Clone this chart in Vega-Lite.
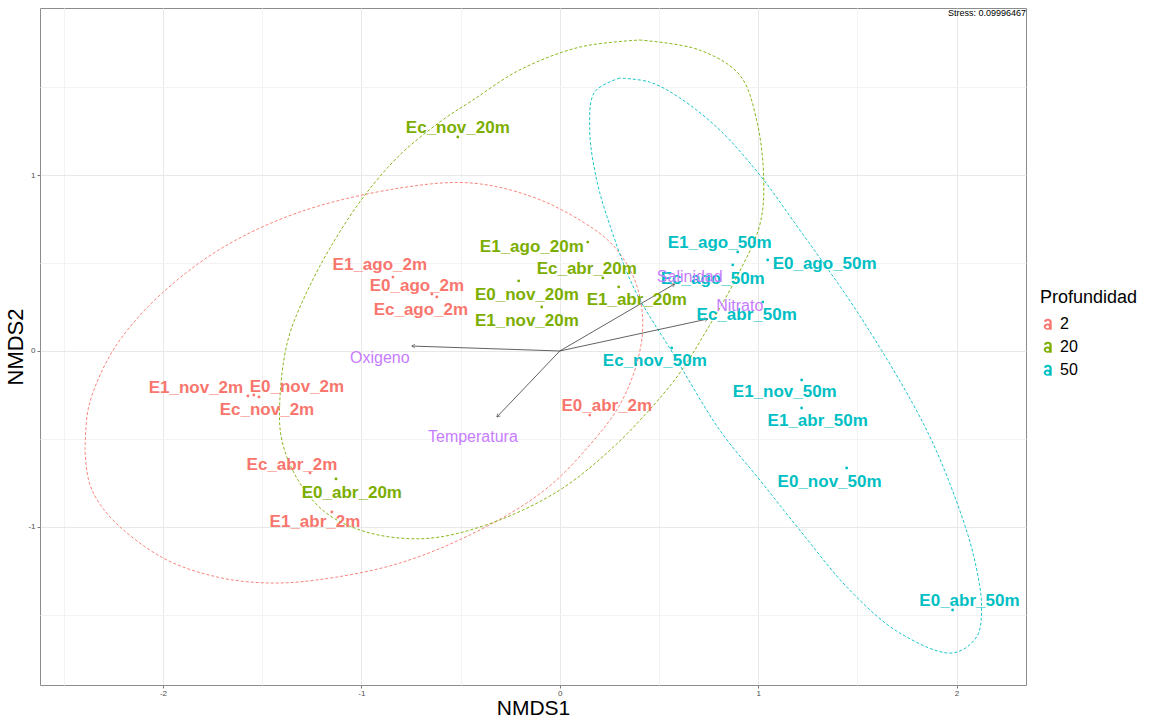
{
  "$schema": "https://vega.github.io/schema/vega-lite/v6.json",
  "width": 986,
  "height": 677,
  "autosize": "none",
  "padding": {"left": 40, "top": 8, "right": 124, "bottom": 34},
  "background": "white",
  "datasets": {
    "muestras": [
      {"id": "E1_ago_2m", "Profundidad": "2", "x": -0.841, "y": 0.420, "lx": -0.907, "ly": 0.489},
      {"id": "E0_ago_2m", "Profundidad": "2", "x": -0.620, "y": 0.307, "lx": -0.720, "ly": 0.369},
      {"id": "Ec_ago_2m", "Profundidad": "2", "x": -0.645, "y": 0.324, "lx": -0.700, "ly": 0.233},
      {"id": "E1_nov_2m", "Profundidad": "2", "x": -1.572, "y": -0.256, "lx": -1.834, "ly": -0.210},
      {"id": "E0_nov_2m", "Profundidad": "2", "x": -1.542, "y": -0.250, "lx": -1.325, "ly": -0.205},
      {"id": "Ec_nov_2m", "Profundidad": "2", "x": -1.516, "y": -0.261, "lx": -1.476, "ly": -0.335},
      {"id": "Ec_abr_2m", "Profundidad": "2", "x": -1.259, "y": -0.693, "lx": -1.350, "ly": -0.648},
      {"id": "E1_abr_2m", "Profundidad": "2", "x": -1.149, "y": -0.915, "lx": -1.234, "ly": -0.972},
      {"id": "E0_abr_2m", "Profundidad": "2", "x": 0.151, "y": -0.364, "lx": 0.237, "ly": -0.313},
      {"id": "Ec_nov_20m", "Profundidad": "20", "x": -0.514, "y": 1.216, "lx": -0.514, "ly": 1.267},
      {"id": "E1_ago_20m", "Profundidad": "20", "x": 0.141, "y": 0.619, "lx": -0.141, "ly": 0.591},
      {"id": "Ec_abr_20m", "Profundidad": "20", "x": 0.217, "y": 0.415, "lx": 0.136, "ly": 0.466},
      {"id": "E0_nov_20m", "Profundidad": "20", "x": -0.207, "y": 0.398, "lx": -0.166, "ly": 0.318},
      {"id": "E1_abr_20m", "Profundidad": "20", "x": 0.297, "y": 0.364, "lx": 0.388, "ly": 0.290},
      {"id": "E1_nov_20m", "Profundidad": "20", "x": -0.091, "y": 0.250, "lx": -0.166, "ly": 0.170},
      {"id": "E0_abr_20m", "Profundidad": "20", "x": -1.128, "y": -0.727, "lx": -1.048, "ly": -0.807},
      {"id": "E1_ago_50m", "Profundidad": "50", "x": 0.897, "y": 0.563, "lx": 0.806, "ly": 0.614},
      {"id": "Ec_ago_50m", "Profundidad": "50", "x": 0.872, "y": 0.489, "lx": 0.771, "ly": 0.409},
      {"id": "E0_ago_50m", "Profundidad": "50", "x": 1.048, "y": 0.517, "lx": 1.335, "ly": 0.494},
      {"id": "Ec_abr_50m", "Profundidad": "50", "x": 1.023, "y": 0.278, "lx": 0.942, "ly": 0.205},
      {"id": "Ec_nov_50m", "Profundidad": "50", "x": 0.564, "y": 0.017, "lx": 0.479, "ly": -0.057},
      {"id": "E1_nov_50m", "Profundidad": "50", "x": 1.219, "y": -0.165, "lx": 1.134, "ly": -0.233},
      {"id": "E1_abr_50m", "Profundidad": "50", "x": 1.219, "y": -0.324, "lx": 1.300, "ly": -0.398},
      {"id": "E0_nov_50m", "Profundidad": "50", "x": 1.446, "y": -0.665, "lx": 1.360, "ly": -0.744},
      {"id": "E0_abr_50m", "Profundidad": "50", "x": 1.980, "y": -1.472, "lx": 2.065, "ly": -1.420}
    ],
    "elipses": [
      {"Profundidad": "2", "i": 1, "x": -2.393, "y": -0.563},
      {"Profundidad": "2", "i": 2, "x": -2.378, "y": -0.335},
      {"Profundidad": "2", "i": 3, "x": -2.317, "y": -0.136},
      {"Profundidad": "2", "i": 4, "x": -2.217, "y": 0.063},
      {"Profundidad": "2", "i": 5, "x": -2.015, "y": 0.318},
      {"Profundidad": "2", "i": 6, "x": -1.703, "y": 0.585},
      {"Profundidad": "2", "i": 7, "x": -1.310, "y": 0.790},
      {"Profundidad": "2", "i": 8, "x": -0.806, "y": 0.926},
      {"Profundidad": "2", "i": 9, "x": -0.453, "y": 0.955},
      {"Profundidad": "2", "i": 10, "x": -0.151, "y": 0.881},
      {"Profundidad": "2", "i": 11, "x": 0.101, "y": 0.744},
      {"Profundidad": "2", "i": 12, "x": 0.267, "y": 0.602},
      {"Profundidad": "2", "i": 13, "x": 0.378, "y": 0.403},
      {"Profundidad": "2", "i": 14, "x": 0.418, "y": 0.176},
      {"Profundidad": "2", "i": 15, "x": 0.393, "y": -0.051},
      {"Profundidad": "2", "i": 16, "x": 0.302, "y": -0.307},
      {"Profundidad": "2", "i": 17, "x": 0.151, "y": -0.534},
      {"Profundidad": "2", "i": 18, "x": -0.076, "y": -0.790},
      {"Profundidad": "2", "i": 19, "x": -0.403, "y": -1.017},
      {"Profundidad": "2", "i": 20, "x": -0.806, "y": -1.205},
      {"Profundidad": "2", "i": 21, "x": -1.224, "y": -1.301},
      {"Profundidad": "2", "i": 22, "x": -1.476, "y": -1.318},
      {"Profundidad": "2", "i": 23, "x": -1.728, "y": -1.284},
      {"Profundidad": "2", "i": 24, "x": -2.000, "y": -1.176},
      {"Profundidad": "2", "i": 25, "x": -2.267, "y": -0.943},
      {"Profundidad": "2", "i": 26, "x": -2.368, "y": -0.761},
      {"Profundidad": "2", "i": 27, "x": -2.393, "y": -0.563},
      {"Profundidad": "20", "i": 1, "x": 0.403, "y": 1.767},
      {"Profundidad": "20", "i": 2, "x": 0.705, "y": 1.710},
      {"Profundidad": "20", "i": 3, "x": 0.907, "y": 1.568},
      {"Profundidad": "20", "i": 4, "x": 0.992, "y": 1.313},
      {"Profundidad": "20", "i": 5, "x": 1.028, "y": 0.972},
      {"Profundidad": "20", "i": 6, "x": 1.008, "y": 0.716},
      {"Profundidad": "20", "i": 7, "x": 0.892, "y": 0.420},
      {"Profundidad": "20", "i": 8, "x": 0.741, "y": 0.119},
      {"Profundidad": "20", "i": 9, "x": 0.605, "y": -0.125},
      {"Profundidad": "20", "i": 10, "x": 0.438, "y": -0.352},
      {"Profundidad": "20", "i": 11, "x": 0.237, "y": -0.580},
      {"Profundidad": "20", "i": 12, "x": 0.000, "y": -0.790},
      {"Profundidad": "20", "i": 13, "x": -0.302, "y": -0.960},
      {"Profundidad": "20", "i": 14, "x": -0.605, "y": -1.057},
      {"Profundidad": "20", "i": 15, "x": -0.806, "y": -1.063},
      {"Profundidad": "20", "i": 16, "x": -1.008, "y": -1.017},
      {"Profundidad": "20", "i": 17, "x": -1.184, "y": -0.915},
      {"Profundidad": "20", "i": 18, "x": -1.320, "y": -0.733},
      {"Profundidad": "20", "i": 19, "x": -1.401, "y": -0.506},
      {"Profundidad": "20", "i": 20, "x": -1.411, "y": -0.278},
      {"Profundidad": "20", "i": 21, "x": -1.370, "y": 0.063},
      {"Profundidad": "20", "i": 22, "x": -1.270, "y": 0.347},
      {"Profundidad": "20", "i": 23, "x": -1.134, "y": 0.631},
      {"Profundidad": "20", "i": 24, "x": -0.982, "y": 0.886},
      {"Profundidad": "20", "i": 25, "x": -0.806, "y": 1.114},
      {"Profundidad": "20", "i": 26, "x": -0.605, "y": 1.301},
      {"Profundidad": "20", "i": 27, "x": -0.438, "y": 1.426},
      {"Profundidad": "20", "i": 28, "x": -0.202, "y": 1.597},
      {"Profundidad": "20", "i": 29, "x": 0.101, "y": 1.727},
      {"Profundidad": "20", "i": 30, "x": 0.403, "y": 1.767},
      {"Profundidad": "50", "i": 1, "x": 0.302, "y": 1.551},
      {"Profundidad": "50", "i": 2, "x": 0.176, "y": 1.472},
      {"Profundidad": "50", "i": 3, "x": 0.151, "y": 1.256},
      {"Profundidad": "50", "i": 4, "x": 0.186, "y": 0.972},
      {"Profundidad": "50", "i": 5, "x": 0.252, "y": 0.716},
      {"Profundidad": "50", "i": 6, "x": 0.378, "y": 0.347},
      {"Profundidad": "50", "i": 7, "x": 0.569, "y": -0.011},
      {"Profundidad": "50", "i": 8, "x": 0.806, "y": -0.449},
      {"Profundidad": "50", "i": 9, "x": 1.008, "y": -0.733},
      {"Profundidad": "50", "i": 10, "x": 1.209, "y": -1.017},
      {"Profundidad": "50", "i": 11, "x": 1.461, "y": -1.358},
      {"Profundidad": "50", "i": 12, "x": 1.713, "y": -1.602},
      {"Profundidad": "50", "i": 13, "x": 1.980, "y": -1.716},
      {"Profundidad": "50", "i": 14, "x": 2.101, "y": -1.625},
      {"Profundidad": "50", "i": 15, "x": 2.126, "y": -1.455},
      {"Profundidad": "50", "i": 16, "x": 2.091, "y": -1.188},
      {"Profundidad": "50", "i": 17, "x": 2.015, "y": -0.903},
      {"Profundidad": "50", "i": 18, "x": 1.849, "y": -0.449},
      {"Profundidad": "50", "i": 19, "x": 1.526, "y": 0.176},
      {"Profundidad": "50", "i": 20, "x": 1.174, "y": 0.744},
      {"Profundidad": "50", "i": 21, "x": 1.008, "y": 1.000},
      {"Profundidad": "50", "i": 22, "x": 0.806, "y": 1.256},
      {"Profundidad": "50", "i": 23, "x": 0.605, "y": 1.438},
      {"Profundidad": "50", "i": 24, "x": 0.453, "y": 1.528},
      {"Profundidad": "50", "i": 25, "x": 0.302, "y": 1.551}
    ],
    "vectores": [
      {"var": "Oxigeno", "x0": 0, "y0": 0, "x": -0.746, "y": 0.028, "lx": -0.907, "ly": -0.040},
      {"var": "Temperatura", "x0": 0, "y0": 0, "x": -0.317, "y": -0.375, "lx": -0.438, "ly": -0.489},
      {"var": "Salinidad", "x0": 0, "y0": 0, "x": 0.579, "y": 0.381, "lx": 0.655, "ly": 0.420},
      {"var": "Nitrato", "x0": 0, "y0": 0, "x": 0.746, "y": 0.182, "lx": 0.907, "ly": 0.256}
    ],
    "estres": [
      {"texto": "Stress: 0.09996467", "x": 2.35, "y": 1.949}
    ]
  },
  "layer": [
    {
      "data": {"name": "elipses"},
      "mark": {"type": "line", "strokeDash": [3, 2], "strokeWidth": 0.9, "interpolate": "catmull-rom"},
      "encoding": {
        "x": {
          "field": "x",
          "type": "quantitative",
          "scale": {"domain": [-2.62, 2.35], "nice": false, "zero": false},
          "axis": {
            "title": "NMDS1",
            "values": [-2.5, -2, -1.5, -1, -0.5, 0, 0.5, 1, 1.5, 2],
            "labelExpr": "datum.value % 1 === 0 ? '' + datum.value : ''",
            "tickColor": {"condition": {"test": "datum.value % 1 !== 0", "value": "transparent"}, "value": "#555555"},
            "gridColor": {"condition": {"test": "datum.value % 1 !== 0", "value": "#F3F3F3"}, "value": "#E8E8E8"},
            "labelPadding": 1,
            "titleFontSize": 21,
            "titlePadding": 0
          }
        },
        "y": {
          "field": "y",
          "type": "quantitative",
          "scale": {"domain": [-1.898, 1.949], "nice": false, "zero": false},
          "axis": {
            "title": "NMDS2",
            "values": [-1.5, -1, -0.5, 0, 0.5, 1, 1.5],
            "labelExpr": "datum.value % 1 === 0 ? '' + datum.value : ''",
            "tickColor": {"condition": {"test": "datum.value % 1 !== 0", "value": "transparent"}, "value": "#555555"},
            "gridColor": {"condition": {"test": "datum.value % 1 !== 0", "value": "#F3F3F3"}, "value": "#E8E8E8"},
            "titlePadding": 0
          }
        },
        "color": {"field": "Profundidad", "type": "nominal"},
        "detail": {"field": "Profundidad", "type": "nominal"},
        "order": {"field": "i", "type": "quantitative"}
      }
    },
    {
      "data": {"name": "vectores"},
      "mark": {"type": "rule", "color": "#3a3a3a", "strokeWidth": 0.8},
      "encoding": {
        "x": {"field": "x0", "type": "quantitative"},
        "y": {"field": "y0", "type": "quantitative"},
        "x2": {"field": "x"},
        "y2": {"field": "y"}
      }
    },
    {
      "data": {"name": "vectores"},
      "transform": [
        {"calculate": "atan2(-datum.y * 176, datum.x * 198.4) * 180 / PI", "as": "ang"}
      ],
      "mark": {"type": "point", "shape": "M -1 -0.6 L 0 0 L -1 0.6", "filled": false, "color": "#3a3a3a", "strokeWidth": 0.8, "size": 40},
      "encoding": {
        "x": {"field": "x", "type": "quantitative"},
        "y": {"field": "y", "type": "quantitative"},
        "angle": {"field": "ang", "type": "quantitative", "scale": null}
      }
    },
    {
      "data": {"name": "muestras"},
      "mark": {"type": "point", "filled": true, "size": 8, "opacity": 1},
      "encoding": {
        "x": {"field": "x", "type": "quantitative"},
        "y": {"field": "y", "type": "quantitative"},
        "color": {"field": "Profundidad", "type": "nominal"}
      }
    },
    {
      "data": {"name": "muestras"},
      "mark": {"type": "text", "font": "Liberation Sans", "fontSize": 17, "fontWeight": "bold", "align": "center", "baseline": "middle"},
      "encoding": {
        "x": {"field": "lx", "type": "quantitative"},
        "y": {"field": "ly", "type": "quantitative"},
        "text": {"field": "id", "type": "nominal"},
        "color": {
          "field": "Profundidad",
          "type": "nominal",
          "scale": {"domain": ["2", "20", "50"], "range": ["#F8766D", "#7CAE00", "#00BFC4"]},
          "legend": {
            "title": "Profundidad",
            "orient": "none",
            "legendX": 1000,
            "legendY": 281,
            "symbolType": "M -0.75 0.45 A 0.65 0.55 0 1 1 0.55 0.45 A 0.65 0.55 0 1 1 -0.75 0.45 Z M -0.4 0.5 A 0.3 0.25 0 1 0 0.2 0.5 A 0.3 0.25 0 1 0 -0.4 0.5 Z M 0.25 -0.35 L 0.65 -0.35 L 0.65 1 L 0.25 1 Z M -0.7 -0.45 C -0.65 -1.05 0.65 -1.1 0.65 -0.35 L 0.25 -0.35 C 0.25 -0.65 -0.25 -0.65 -0.3 -0.35 Z",
            "symbolSize": 130,
            "symbolStrokeWidth": 0,
            "symbolOpacity": 1,
            "symbolDash": []
          }
        }
      }
    },
    {
      "data": {"name": "vectores"},
      "mark": {"type": "text", "font": "Liberation Sans", "fontSize": 16, "color": "#C77CFF", "align": "center", "baseline": "middle"},
      "encoding": {
        "x": {"field": "lx", "type": "quantitative"},
        "y": {"field": "ly", "type": "quantitative"},
        "text": {"field": "var", "type": "nominal"}
      }
    },
    {
      "data": {"name": "estres"},
      "mark": {"type": "text", "font": "Liberation Sans", "fontSize": 9, "color": "#000000", "align": "right", "baseline": "top", "dy": 1},
      "encoding": {
        "x": {"field": "x", "type": "quantitative"},
        "y": {"field": "y", "type": "quantitative"},
        "text": {"field": "texto", "type": "nominal"}
      }
    }
  ],
  "config": {
    "font": "Liberation Sans",
    "view": {"stroke": "#8c8c8c", "strokeWidth": 1},
    "axis": {
      "domain": false,
      "tickSize": 3,
      "tickWidth": 0.8,
      "labelFontSize": 8,
      "labelColor": "#4D4D4D",
      "labelPadding": 2,
      "titleFontSize": 22,
      "titleFontWeight": "normal",
      "titleColor": "#000000",
      "gridWidth": 1
    },
    "legend": {
      "titleFontSize": 18,
      "titleFontWeight": "normal",
      "titleColor": "#000000",
      "titlePadding": 9,
      "labelFontSize": 16,
      "labelColor": "#000000",
      "rowPadding": 7,
      "padding": 0
    }
  }
}
